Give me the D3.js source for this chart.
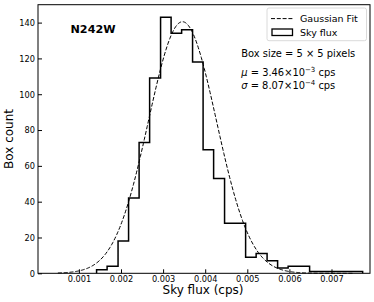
<!DOCTYPE html>
<html>
<head>
<meta charset="utf-8">
<script src="https://cdn.jsdelivr.net/npm/d3@7"></script>
<style>
  body { margin: 0; background: #fff; }
  text { font-family: "DejaVu Sans", sans-serif; fill: #000; }
</style>
</head>
<body>
<script>
// histogram bin edges (cps) and counts
var binEdges = [0.00142, 0.00167, 0.00193, 0.00218, 0.00243, 0.00268, 0.00294, 0.00319,
                0.00344, 0.00370, 0.00395, 0.00420, 0.00446, 0.00471, 0.00496, 0.00521,
                0.00547, 0.00572, 0.00597, 0.00623, 0.00648, 0.00673, 0.00698, 0.00724,
                0.00749, 0.00774];
var binCounts = [2, 4, 18, 42, 73, 109, 143, 134, 136, 118, 69, 53, 28, 28, 9, 11, 7, 3, 4, 4, 1, 1, 1, 1, 1];

// gaussian fit parameters
var fitMu = 0.00346;
var fitSigma = 0.000807;
var fitAmp = 140.5;
var fitRange = [0.0005, 0.0075];

var xTicks = [0.001, 0.002, 0.003, 0.004, 0.005, 0.006, 0.007];
var yTicks = [0, 20, 40, 60, 80, 100, 120, 140];

var width = 374, height = 302;
var margin = {left: 38, right: 4, top: 4.7, bottom: 28.7};

var svg = d3.select("body").append("svg").attr("width", width).attr("height", height);

var x = d3.scaleLinear().domain([0.0000285, 0.0079145]).range([margin.left, width - margin.right]);
var y = d3.scaleLinear().domain([0, 150]).range([height - margin.bottom, margin.top]);

// gaussian curve
var curvePts = d3.range(0, 301).map(function(i){
  var v = fitRange[0] + (fitRange[1] - fitRange[0]) * i / 300;
  return [v, fitAmp * Math.exp(-0.5 * Math.pow((v - fitMu) / fitSigma, 2))];
});
var line = d3.line().x(function(d){ return x(d[0]); }).y(function(d){ return y(d[1]); });

svg.append("path").datum(curvePts)
  .attr("d", line)
  .attr("fill", "none").attr("stroke", "#000")
  .attr("stroke-width", 1).attr("stroke-dasharray", "4,1.8");

// step histogram
var steps = [[binEdges[0], 0]];
binCounts.forEach(function(c, i){
  steps.push([binEdges[i], c]);
  steps.push([binEdges[i + 1], c]);
});
steps.push([binEdges[binEdges.length - 1], 0]);

svg.append("path").datum(steps)
  .attr("d", line)
  .attr("fill", "none").attr("stroke", "#000")
  .attr("stroke-width", 1.5).attr("stroke-linejoin", "miter");

// axes
var xAxis = svg.append("g")
  .attr("transform", "translate(0," + y(0) + ")")
  .call(d3.axisBottom(x).tickValues(xTicks).tickFormat(d3.format(".3f")).tickSizeInner(-4).tickSizeOuter(0));
xAxis.select(".domain").remove();
xAxis.selectAll("text").attr("y", 8.7).attr("dy", 0).style("font-size", "8.2px").style("font-family", "DejaVu Sans");

var yAxis = svg.append("g")
  .attr("transform", "translate(" + x.range()[0] + ",0)")
  .call(d3.axisLeft(y).tickValues(yTicks).tickSizeInner(-4).tickSizeOuter(0));
yAxis.select(".domain").remove();
yAxis.selectAll("text").attr("x", -3).attr("dy", "0.35em").style("font-size", "8.2px").style("font-family", "DejaVu Sans");

// frame
svg.append("rect")
  .attr("x", x.range()[0]).attr("y", y.range()[1])
  .attr("width", x.range()[1] - x.range()[0])
  .attr("height", y.range()[0] - y.range()[1])
  .attr("fill", "none").attr("stroke", "#000").attr("stroke-width", 1);

// axis labels
svg.append("text").attr("x", 203).attr("y", 294)
  .attr("text-anchor", "middle").style("font-size", "12px").text("Sky flux (cps)");
svg.append("text").attr("transform", "translate(13.3,139) rotate(-90)")
  .attr("text-anchor", "middle").style("font-size", "12px").text("Box count");

// title inside
svg.append("text").attr("x", 70.5).attr("y", 33.3)
  .style("font-size", "11.2px").style("font-weight", "bold").text("N242W");

// legend
var lg = svg.append("g");
lg.append("rect").attr("x", 267).attr("y", 8).attr("width", 99.5).attr("height", 32.7)
  .attr("rx", 2).attr("fill", "#fff").attr("fill-opacity", 0.8)
  .attr("stroke", "#d0d0d0").attr("stroke-width", 0.8);
lg.append("line").attr("x1", 271).attr("x2", 293).attr("y1", 18.6).attr("y2", 18.6)
  .attr("stroke", "#000").attr("stroke-width", 1).attr("stroke-dasharray", "4,1.8");
lg.append("text").attr("x", 300).attr("y", 22).style("font-size", "9.5px").text("Gaussian Fit");
lg.append("rect").attr("x", 272).attr("y", 29).attr("width", 20.5).attr("height", 6.5)
  .attr("fill", "none").attr("stroke", "#000").attr("stroke-width", 1.3);
lg.append("text").attr("x", 300).attr("y", 35.5).style("font-size", "9.5px").text("Sky flux");

// annotations
svg.append("text").attr("x", 241.3).attr("y", 57).style("font-size", "9.9px")
  .text("Box size = 5 \u00d7 5 pixels");

function sciLine(yy, sym, mant, expo) {
  var t = svg.append("text").attr("x", 241.3).attr("y", yy).style("font-size", "9.9px");
  t.append("tspan").style("font-style", "italic").text(sym);
  t.append("tspan").text(" = " + mant + "\u00d710");
  t.append("tspan").attr("dy", -4).style("font-size", "7px").text("\u2212" + expo);
  t.append("tspan").attr("dy", 4).text(" cps");
}
sciLine(76, "\u03bc", "3.46", "3");
sciLine(89.3, "\u03c3", "8.07", "4");
</script>
</body>
</html>
